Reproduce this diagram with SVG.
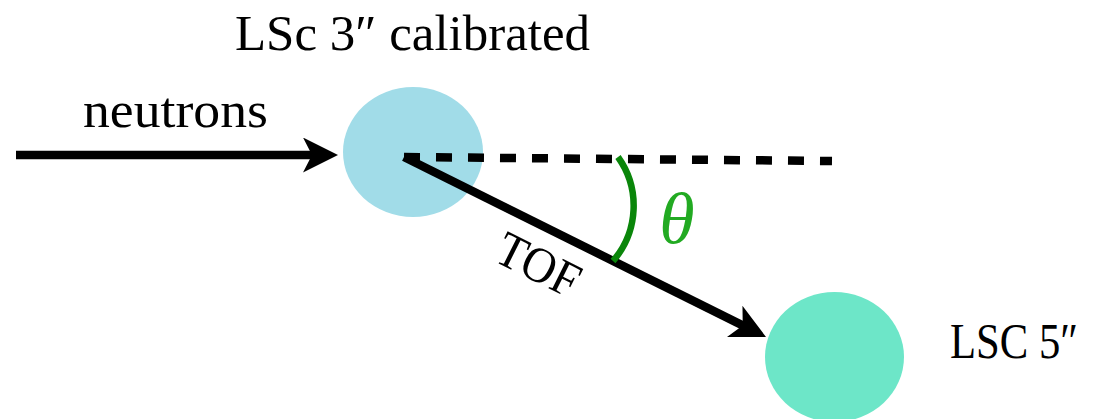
<svg xmlns="http://www.w3.org/2000/svg" width="1096" height="419" viewBox="0 0 1096 419">
  <style>
    .lbl { font-family: "Liberation Serif", "DejaVu Serif", serif; font-size: 50px; fill: #000; }
    .conn { stroke: #000; stroke-width: 8.5; fill: none; }
  </style>
  <defs>
    <marker id="arrow" markerUnits="userSpaceOnUse" markerWidth="36" markerHeight="36" refX="15" refY="17.5" orient="auto">
      <path d="M0,0 L35,17.5 L0,35 L9,17.5 Z" fill="#000"/>
    </marker>
  </defs>
  <rect width="1096" height="419" fill="#fff"/>

  <g id="node-lsc3">
    <ellipse cx="413" cy="152" rx="70" ry="65" fill="#A1DCE8"/>
    <text class="lbl" x="235" y="50" textLength="355" lengthAdjust="spacingAndGlyphs">LSc 3″ calibrated</text>
  </g>

  <g id="node-lsc5">
    <ellipse cx="834.5" cy="357" rx="69.5" ry="65" fill="#6DE6C8"/>
    <text class="lbl" x="950" y="358" font-size="45" textLength="128" lengthAdjust="spacingAndGlyphs">LSC 5″</text>
  </g>

  <g id="connectors">
    <line class="conn" x1="16" y1="155" x2="318" y2="155" marker-end="url(#arrow)"/>
    <text class="lbl" x="83" y="127" textLength="185" lengthAdjust="spacingAndGlyphs">neutrons</text>
    <line class="conn" x1="404" y1="157" x2="832" y2="161" stroke-dasharray="16 16"/>
    <line class="conn" x1="404" y1="157" x2="748.1" y2="328.1" marker-end="url(#arrow)"/>
    <text class="lbl" x="537" y="281" text-anchor="middle" font-size="40" textLength="87" lengthAdjust="spacingAndGlyphs" transform="rotate(26.5 537 268)">TOF</text>
    <path d="M618,157 A84,84 0 0 1 613,261" fill="none" stroke="#0A860A" stroke-width="6.5"/>
    <text x="677" y="243" text-anchor="middle" font-family="Liberation Serif, DejaVu Serif, serif" font-style="italic" font-size="72" fill="#22AA22">θ</text>
  </g>
</svg>
